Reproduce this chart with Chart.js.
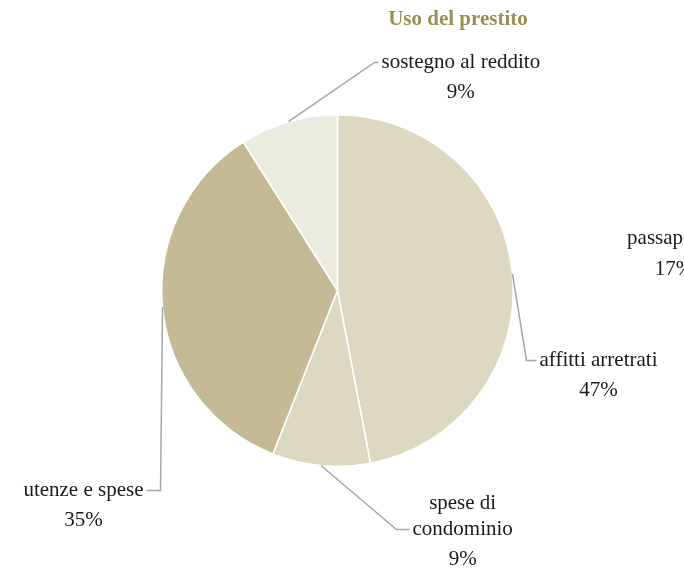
<!DOCTYPE html>
<html>
<head>
<meta charset="utf-8">
<script src="https://cdn.jsdelivr.net/npm/chart.js@4"></script>
<style>
  html, body { margin: 0; padding: 0; background: #fff; }
  #wrap { width: 684px; height: 568px; position: relative; }
</style>
</head>
<body>
<div id="wrap"><canvas id="grafico" width="684" height="568"></canvas></div>
<script>
// dati
const categorie = ['affitti arretrati', 'spese di condominio', 'utenze e spese', 'sostegno al reddito'];
const valori = [47, 9, 35, 9];
const colori = ['#ddd8c1', '#ddd8c1', '#c4bb96', '#ecebe0'];
// etichetta fuori dal bordo destro (troncata nel riferimento)
const etichettaExtra = ['passaporto', '17%'];

const FONT = '"Liberation Serif", "DejaVu Serif", serif';

// posizione delle etichette: gomito e fine linea rispetto al centro, allineamento testo
const etichette = [
  { elbow: [189, 70], end: [199, 70], align: 'left', lines: ['affitti arretrati'] },
  { elbow: [59, 239], end: [72, 239], align: 'left', lines: ['spese di', 'condominio'] },
  { elbow: [-177, 200], end: [-191, 200], align: 'right', lines: ['utenze e spese'] },
  { elbow: [37, -228], end: [41, -228], align: 'left', lines: ['sostegno al reddito'] }
];

const pluginEtichette = {
  id: 'etichette',
  afterDatasetsDraw(chart) {
    const ctx = chart.ctx;
    const meta = chart.getDatasetMeta(0);
    const tot = valori.reduce((a, b) => a + b, 0);
    ctx.save();
    meta.data.forEach((arc, i) => {
      const p = arc.getProps(['x', 'y', 'startAngle', 'endAngle', 'outerRadius'], true);
      const mid = (p.startAngle + p.endAngle) / 2;
      const sx = p.x + Math.cos(mid) * p.outerRadius;
      const sy = p.y + Math.sin(mid) * p.outerRadius;
      const e = etichette[i];
      const ex = p.x + e.elbow[0], ey = p.y + e.elbow[1];
      const fx = p.x + e.end[0], fy = p.y + e.end[1];
      ctx.strokeStyle = '#a6a6a6';
      ctx.lineWidth = 1.5;
      ctx.beginPath();
      ctx.moveTo(sx, sy);
      ctx.lineTo(ex, ey);
      ctx.lineTo(fx, fy);
      ctx.stroke();

      ctx.font = '21px ' + FONT;
      ctx.fillStyle = '#1a1a1a';
      ctx.textBaseline = 'middle';
      const righe = e.lines.concat([Math.round(valori[i] / tot * 100) + '%']);
      const w = Math.max(...righe.map(r => ctx.measureText(r).width));
      const tx = e.align === 'left' ? fx + 3 : fx - 3 - w;
      const nPrima = e.lines.length;
      const y0 = fy - (nPrima - 1) * 26;
      ctx.textAlign = 'center';
      righe.forEach((r, k) => {
        const yy = k < nPrima ? y0 + k * 26 : fy + 30;
        ctx.fillText(r, tx + w / 2, yy);
      });
    });

    // etichetta troncata a destra
    ctx.textAlign = 'center';
    ctx.fillText(etichettaExtra[0], 672, 238);
    ctx.fillText(etichettaExtra[1], 674, 269);

    // titolo
    ctx.font = 'bold 21px ' + FONT;
    ctx.fillStyle = '#9a8f55';
    ctx.fillText('Uso del prestito', 458, 20);
    ctx.restore();
  }
};

new Chart(document.getElementById('grafico'), {
  type: 'pie',
  data: {
    labels: categorie,
    datasets: [{
      data: valori,
      backgroundColor: colori,
      borderColor: '#ffffff',
      borderWidth: 1.5
    }]
  },
  options: {
    responsive: false,
    animation: false,
    layout: { padding: { left: 161, right: 170, top: 114, bottom: 101 } },
    plugins: {
      legend: { display: false },
      tooltip: { enabled: false }
    }
  },
  plugins: [pluginEtichette]
});
</script>
</body>
</html>
